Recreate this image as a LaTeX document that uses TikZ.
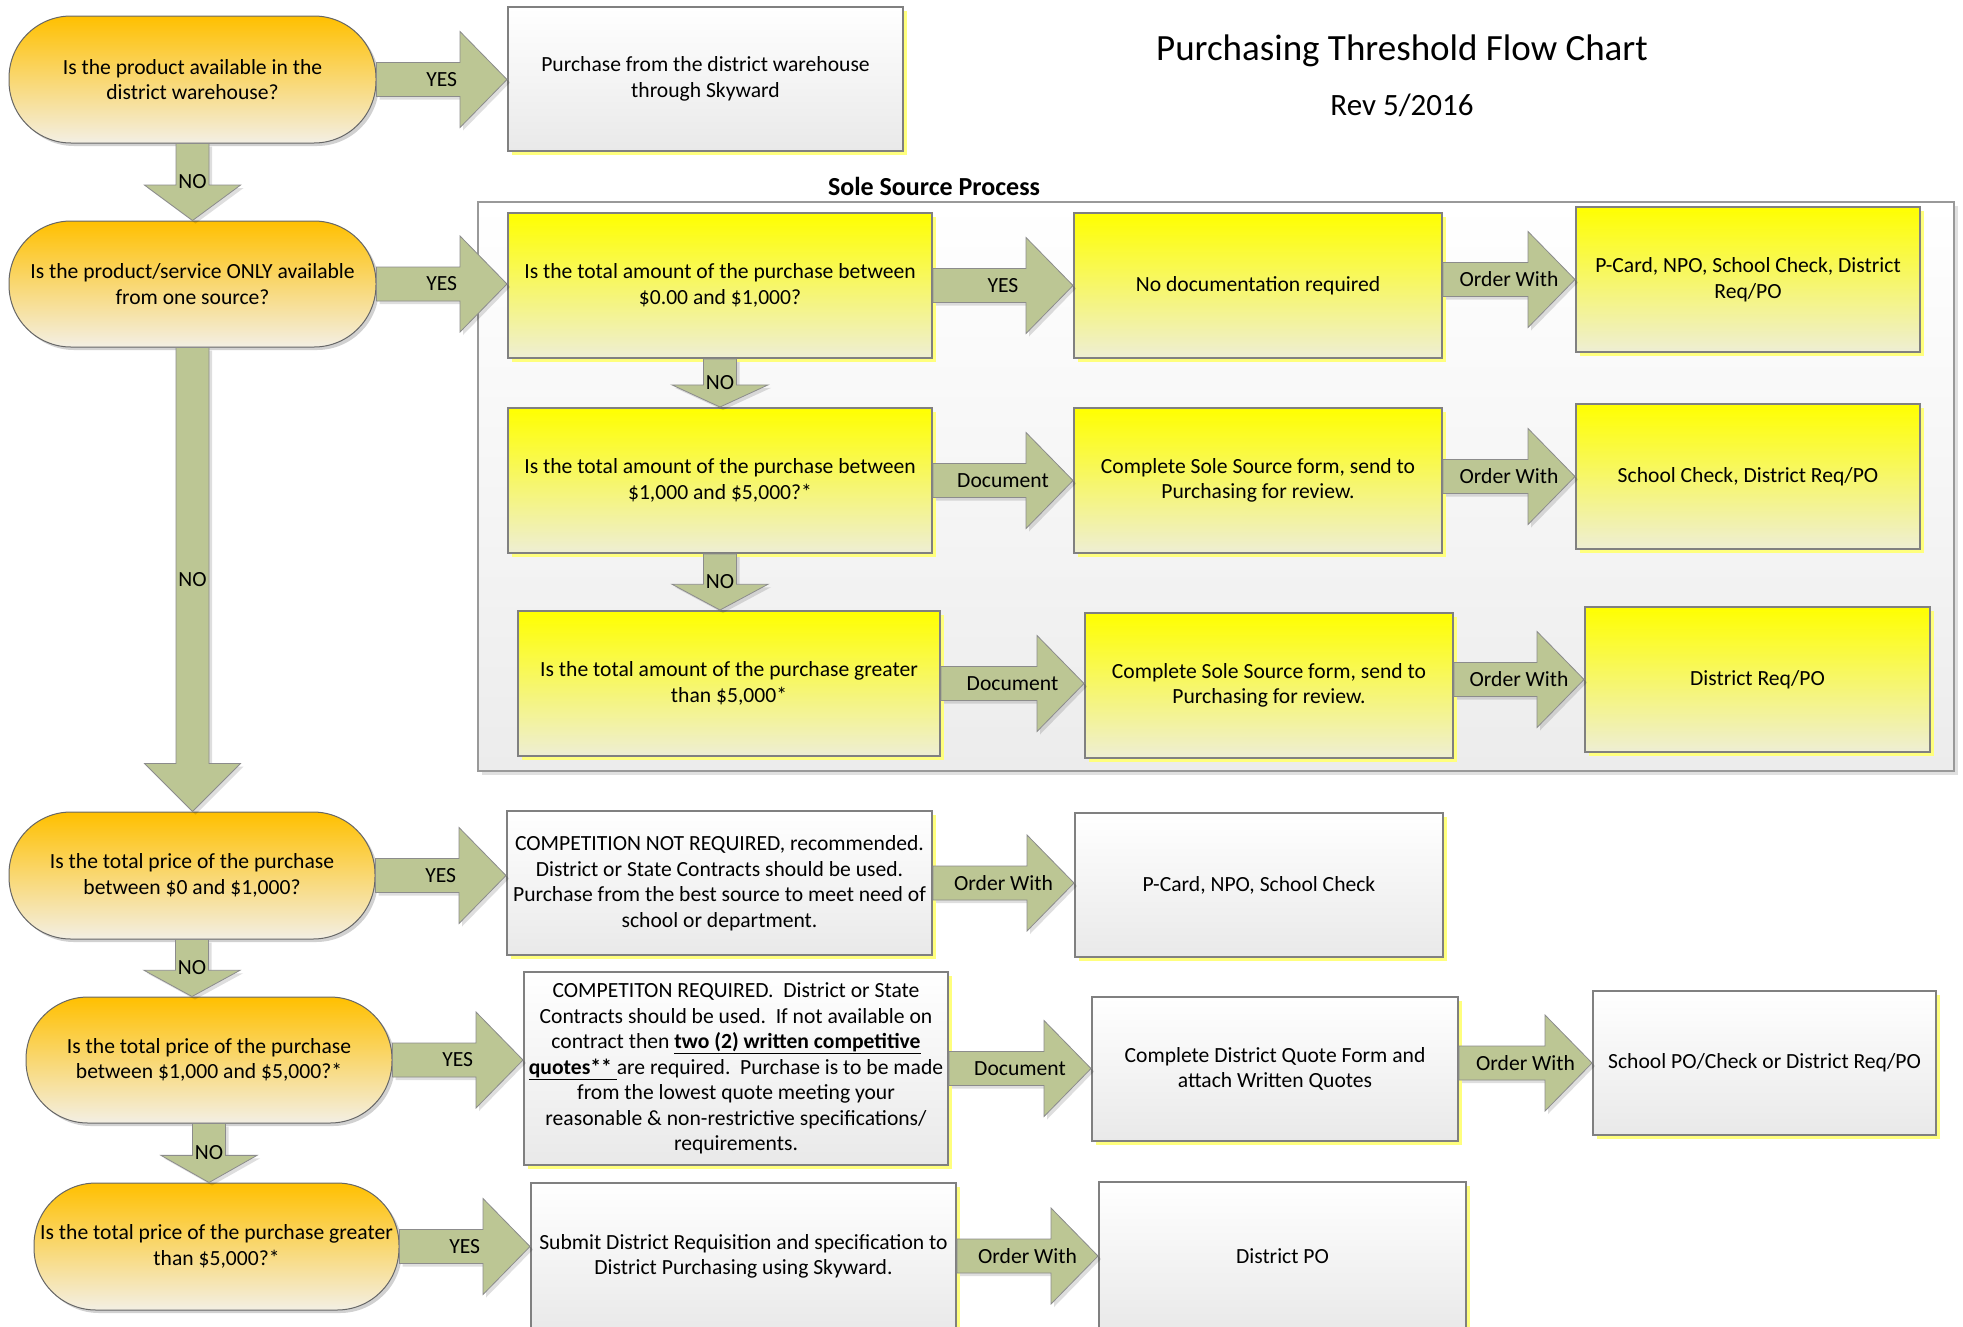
\documentclass[tikz,border=0pt]{standalone}
\usepackage{fontspec}
\setmainfont{Carlito}
\usetikzlibrary{calc,shadows}

\definecolor{decitop}{RGB}{255,192,0}
\definecolor{decibot}{RGB}{243,239,228}
\definecolor{yeltop}{RGB}{255,255,0}
\definecolor{yelbot}{RGB}{238,238,212}
\definecolor{graybot}{RGB}{233,233,233}
\definecolor{framebot}{RGB}{236,236,236}
\definecolor{arrowgreen}{RGB}{188,198,148}
\definecolor{edgegray}{RGB}{128,128,128}
\definecolor{shadowyellow}{RGB}{255,255,125}

\newcommand{\bodysize}{\fontsize{21.6}{25.5}\selectfont}

\tikzset{
    boxsize/.style 2 args={minimum width=#1pt, minimum height=#2pt},
    decision/.style={draw=black!60, line width=1pt, rounded corners=62pt,
        top color=decitop, bottom color=decibot, align=center, inner sep=0pt,
        font=\bodysize,
        drop shadow={shadow xshift=3pt, shadow yshift=-3pt, fill=black, opacity=.18}},
    yellowbox/.style={draw=edgegray, line width=2pt,
        top color=yeltop, bottom color=yelbot, align=center, inner sep=0pt,
        font=\bodysize,
        drop shadow={shadow xshift=4pt, shadow yshift=-4pt, fill=shadowyellow, opacity=1}},
    whitebox/.style={yellowbox, top color=white, bottom color=graybot},
    frame/.style={draw=black!40, line width=2pt, top color=white, bottom color=framebot,
        inner sep=0pt,
        drop shadow={shadow xshift=4pt, shadow yshift=-4pt, fill=black, opacity=.12}},
    blockarrow/.style={draw=black!45, line width=0.8pt, fill=arrowgreen,
        drop shadow={shadow xshift=3pt, shadow yshift=-3pt, fill=black, opacity=.13}},
    arrowlabel/.style={font=\bodysize, inner sep=0pt},
}

% block arrow: from, to, node giving the height, label
\newcommand{\harrow}[4]{%
    \draw[blockarrow] let \p1=(#1.east), \p2=(#2.west), \p3=(#3),
            \n1={min(0.46*(\x2-\x1),47)} in
        (\x1,\y3+17) -- (\x2-\n1,\y3+17) -- (\x2-\n1,\y3+48) -- (\x2,\y3)
        -- (\x2-\n1,\y3-48) -- (\x2-\n1,\y3-17) -- (\x1,\y3-17) -- cycle;
    \path let \p1=(#1.east), \p2=(#2.west), \p3=(#3) in
        node[arrowlabel] at ({0.5*(\x1+\x2)},\y3) {#4};
}
% block arrow downwards: from, to, node giving the x, label
\newcommand{\varrow}[4]{%
    \draw[blockarrow] let \p1=(#1.south), \p2=(#2.north), \p3=(#3),
            \n1={min(0.46*(\y1-\y2),48)} in
        (\x3-16.5,\y1) -- (\x3-16.5,\y2+\n1) -- (\x3-48,\y2+\n1) -- (\x3,\y2)
        -- (\x3+48,\y2+\n1) -- (\x3+16.5,\y2+\n1) -- (\x3+16.5,\y1) -- cycle;
    \path let \p1=(#1.south), \p2=(#2.north), \p3=(#3) in
        node[arrowlabel] at (\x3,{0.5*(\y1+\y2)}) {#4};
}

\begin{document}
\begin{tikzpicture}[x=1pt,y=-1pt]
    \path[use as bounding box, clip] (0,0) rectangle (1963,1326);
    \fill[white] (0,0) rectangle (1963,1326);

    \node[anchor=base, font=\fontsize{37}{44}\selectfont] (title) at (1402,60) {Purchasing Threshold Flow Chart};
    \node[anchor=base, font=\fontsize{31}{37}\selectfont] (rev) at (1402,115) {Rev 5/2016};

    % sole source
    \node[frame, boxsize={1476}{569}] (sole) at (1216,486.5) {};
    \node[anchor=base, font=\fontsize{26}{31}\selectfont\bfseries] (soletitle) at (934,195) {Sole Source Process};

    \node[yellowbox, boxsize={424}{145}] (ssLow) at (720,285.5)
        {Is the total amount of the purchase between\\\$0.00 and \$1,000?};
    \node[yellowbox, boxsize={368}{145}] (ssNoDoc) at (1258,285.5)
        {No documentation required};
    \node[yellowbox, boxsize={344}{145}] (ssOrdLow) at (1748,279.5)
        {P-Card, NPO, School Check, District\\Req/PO};

    \node[yellowbox, boxsize={424}{145}] (ssMid) at (720,480.5)
        {Is the total amount of the purchase between\\\$1,000 and \$5,000?*};
    \node[yellowbox, boxsize={368}{145}] (ssFormMid) at (1258,480.5)
        {Complete Sole Source form, send to\\Purchasing for review.};
    \node[yellowbox, boxsize={344}{145}] (ssOrdMid) at (1748,476.5)
        {School Check, District Req/PO};

    \node[yellowbox, boxsize={422}{145}] (ssHigh) at (729,683.5)
        {Is the total amount of the purchase greater\\than \$5,000*};
    \node[yellowbox, boxsize={368}{145}] (ssFormHigh) at (1269,685.5)
        {Complete Sole Source form, send to\\Purchasing for review.};
    \node[yellowbox, boxsize={345}{145}] (ssOrdHigh) at (1757.5,679.5)
        {District Req/PO};

    % main column
    \node[decision, boxsize={367}{127}] (qWare) at (192.5,79.5)
        {Is the product available in the\\district warehouse?};
    \node[whitebox, boxsize={395}{144}] (ware) at (705.5,79)
        {Purchase from the district warehouse\\through Skyward};

    \node[decision, boxsize={367}{126}] (qSole) at (192.5,284)
        {Is the product/service ONLY available\\from one source?};

    \node[decision, boxsize={366}{127}] (qLow) at (192,875.5)
        {Is the total price of the purchase\\between \$0 and \$1,000?};
    \node[whitebox, boxsize={425}{144}] (compNone) at (719.5,883)
        {COMPETITION NOT REQUIRED, recommended.\\District or State Contracts should be used.\\Purchase from the best source to meet need of\\school or department.};
    \node[whitebox, boxsize={368}{144}] (ordLow) at (1259,885)
        {P-Card, NPO, School Check};

    \node[decision, boxsize={366}{126}] (qMid) at (209,1060)
        {Is the total price of the purchase\\between \$1,000 and \$5,000?*};
    \node[whitebox, boxsize={424}{193}] (compQuotes) at (736,1068.5)
        {COMPETITON REQUIRED.\ \ District or State\\
         Contracts should be used.\ \ If not available on\\
         contract then \textbf{\underline{two (2) written competitive}}\\
         \textbf{\underline{quotes**\ }}are required.\ \ Purchase is to be made\\
         from the lowest quote meeting your\\
         reasonable \& non-restrictive specifications/\\
         requirements.};
    \node[whitebox, boxsize={366}{144}] (quoteForm) at (1275,1069)
        {Complete District Quote Form and\\attach Written Quotes};
    \node[whitebox, boxsize={343}{144}] (ordMid) at (1764.5,1063)
        {School PO/Check or District Req/PO};

    \node[decision, boxsize={365}{127}] (qHigh) at (216.5,1246.5)
        {Is the total price of the purchase greater\\than \$5,000?*};
    \node[whitebox, boxsize={425}{147}] (requisition) at (743.5,1256.5)
        {Submit District Requisition and specification to\\District Purchasing using Skyward.};
    \node[whitebox, boxsize={367}{148}] (ordHigh) at (1282.5,1256)
        {District PO};

    % arrows
    \harrow{qWare}{ware}{qWare}{YES}
    \varrow{qWare}{qSole}{qWare}{NO}
    \harrow{qSole}{ssLow}{qSole}{YES}
    \varrow{qSole}{qLow}{qSole}{NO}

    \harrow{ssLow}{ssNoDoc}{ssLow}{YES}
    \harrow{ssNoDoc}{ssOrdLow}{ssOrdLow}{Order With}
    \varrow{ssLow}{ssMid}{ssLow}{NO}
    \harrow{ssMid}{ssFormMid}{ssFormMid}{Document}
    \harrow{ssFormMid}{ssOrdMid}{ssOrdMid}{Order With}
    \varrow{ssMid}{ssHigh}{ssMid}{NO}
    \harrow{ssHigh}{ssFormHigh}{ssHigh}{Document}
    \harrow{ssFormHigh}{ssOrdHigh}{ssOrdHigh}{Order With}

    \harrow{qLow}{compNone}{qLow}{YES}
    \harrow{compNone}{ordLow}{compNone}{Order With}
    \varrow{qLow}{qMid}{qLow}{NO}
    \harrow{qMid}{compQuotes}{qMid}{YES}
    \harrow{compQuotes}{quoteForm}{compQuotes}{Document}
    \harrow{quoteForm}{ordMid}{ordMid}{Order With}
    \varrow{qMid}{qHigh}{qMid}{NO}
    \harrow{qHigh}{requisition}{qHigh}{YES}
    \harrow{requisition}{ordHigh}{ordHigh}{Order With}
\end{tikzpicture}
\end{document}
